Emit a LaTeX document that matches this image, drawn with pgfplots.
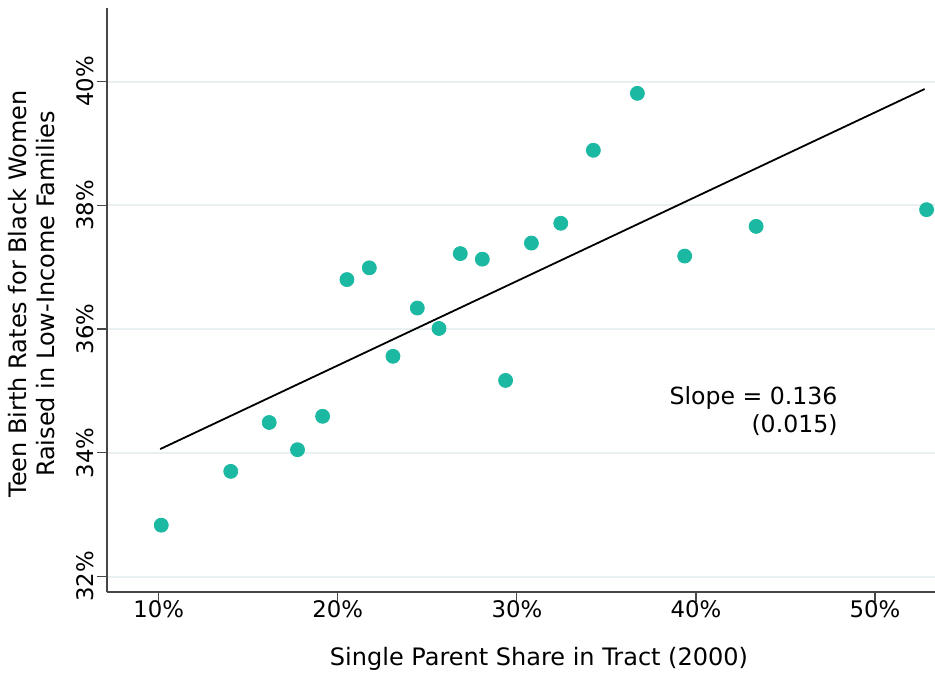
\documentclass[border=0pt]{standalone}
\usepackage{fontspec}
\setmainfont{DejaVu Sans}
\usepackage{pgfplots}
\pgfplotsset{compat=1.18}
\definecolor{dotteal}{RGB}{27,184,162}
\definecolor{gridc}{RGB}{232,240,242}
\definecolor{axisc}{RGB}{70,70,70}

\begin{document}
\begin{tikzpicture}
\begin{axis}[
    scale only axis,
    width=414pt, height=292pt,
    xmin=7.11, xmax=53.35,
    ymin=31.75, ymax=41.19,
    clip=false,
    axis x line*=bottom,
    axis y line*=left,
    axis line style={axisc, line width=0.75pt},
    xtick={10,20,30,40,50},
    ytick={32,34,36,38,40},
    xticklabels={10\%,20\%,30\%,40\%,50\%},
    yticklabels={32\%,34\%,36\%,38\%,40\%},
    tick style={axisc, line width=0.6pt},
    tick align=outside,
    major tick length=5pt,
    ymajorgrids,
    grid style={gridc, line width=1pt},
    ticklabel style={font=\fontsize{11.4}{13}\selectfont},
    xticklabel style={yshift=4pt},
    yticklabel style={rotate=90, anchor=south, yshift=-2pt},
    xlabel={Single Parent Share in Tract (2000)},
    ylabel={Teen Birth Rates for Black Women\\Raised in Low-Income Families},
    label style={font=\fontsize{12}{14}\selectfont},
    ylabel style={align=center, yshift=4pt, xshift=3pt},
    xlabel style={yshift=-7.5pt, xshift=9pt},
]
\addplot[only marks, mark=*, mark size=3.5pt,
    mark options={fill=dotteal, draw=dotteal}] coordinates {
    (10.14,32.83) (14.02,33.70) (16.17,34.49) (17.75,34.05) (19.15,34.59)
    (20.51,36.80) (21.76,36.99) (23.08,35.56) (24.44,36.34) (25.65,36.01)
    (26.84,37.22) (28.07,37.13) (29.37,35.17) (30.81,37.39) (32.45,37.71)
    (34.27,38.89) (36.73,39.81) (39.37,37.18) (43.36,37.66) (52.88,37.93)
};
% fitted line
\addplot[black, line width=0.9pt] coordinates {(10.08,34.06) (52.77,39.88)};
\node[anchor=east, align=right, font=\fontsize{11.8}{14}\selectfont]
    at (axis cs:48.3,34.68) {Slope = 0.136\\(0.015)};
\end{axis}
% frame the page like the original (margins round the axis)
\pgfresetboundingbox
\path[use as bounding box] (-53.5pt,-41.5pt) rectangle (414pt,296pt);
\end{tikzpicture}
\end{document}
